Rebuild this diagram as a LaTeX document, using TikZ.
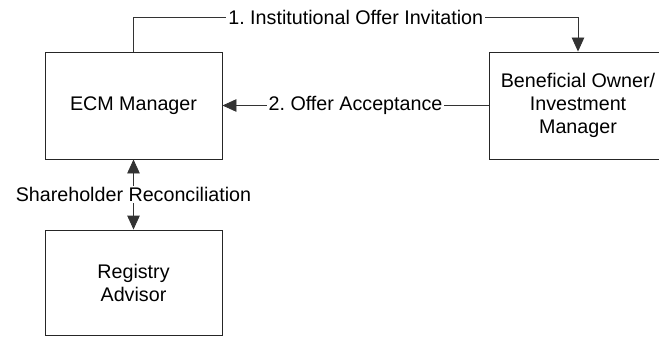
\documentclass[tikz,border=0pt]{standalone}
\usepackage{fontspec}
\setmainfont{Liberation Sans}
\usetikzlibrary{arrows.meta}
\frenchspacing
\tikzset{
  box/.style={draw=black!85, line width=0.9pt, minimum width=177pt, minimum height=107pt, align=center, inner sep=0pt, font=\fontsize{19.7}{23}\selectfont},
  conn/.style={draw=black!80, line width=0.9pt},
  tip/.style={-{Triangle[length=14pt,width=12.5pt]}},
  lbl/.style={fill=white, inner sep=2pt, font=\fontsize{19.7}{23}\selectfont}
}
\begin{document}
\begin{tikzpicture}[x=1pt,y=-1pt]
\useasboundingbox (0,0) rectangle (659,337);
\clip (0,0) rectangle (659,337);
\node[box] (ecm) at (133.5,105.5) {ECM Manager};
\node[box, minimum width=178pt] (ben) at (578,105.5) {Beneficial Owner/\\Investment\\Manager};
\node[box, minimum height=105pt] (reg) at (133.5,282.5) {Registry\\Advisor};
\coordinate (top) at (133.5,17);
\draw[conn,tip] (ecm.north) |- (top) -- node[lbl] {1.\ Institutional Offer Invitation} (top -| ben.north) -- (ben.north);
\draw[conn,tip] (ben.west) -- node[lbl] {2.\ Offer Acceptance} (ecm.east);
\draw[conn,{Triangle[length=14pt,width=12.5pt]}-{Triangle[length=14pt,width=12.5pt]}] (ecm.south) -- node[lbl, inner sep=1pt] {Shareholder Reconciliation} (reg.north);
\end{tikzpicture}
\end{document}
